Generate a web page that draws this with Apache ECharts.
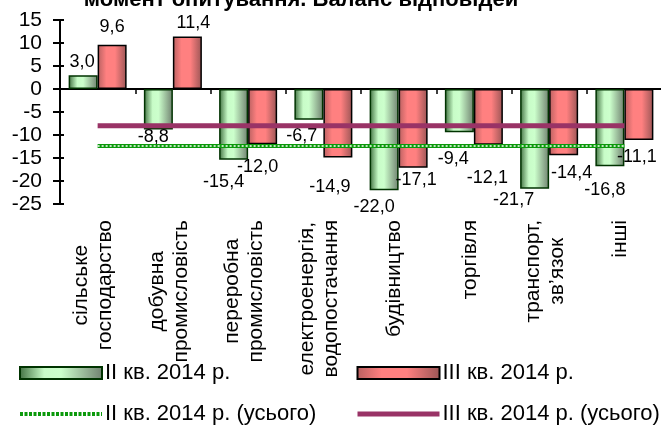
<!DOCTYPE html>
<html>
<head>
<meta charset="utf-8">
<script src="https://cdn.jsdelivr.net/npm/echarts@6/dist/echarts.min.js"></script>
<style>
html,body{margin:0;padding:0;background:#fff;}
#chart{width:661px;height:427px;}
</style>
</head>
<body>
<div id="chart"></div>
<script>
const titleText = 'момент опитування. Баланс відповідей';
const categories = ['сільське\nгосподарство', 'добувна\nпромисловість', 'переробна\nпромисловість', 'електроенергія,\nводопостачання', 'будівництво', 'торгівля', 'транспорт,\nзв\u2019язок', 'інші'];
const q2Values = [3.0, -8.8, -15.4, -6.7, -22.0, -9.4, -21.7, -16.8];
const q3Values = [9.6, 11.4, -12.0, -14.9, -17.1, -12.1, -14.4, -11.1];
const q2TotalValues = [-12.4, -12.4, -12.4, -12.4, -12.4, -12.4, -12.4, -12.4];
const q3TotalValues = [-8.0, -8.0, -8.0, -8.0, -8.0, -8.0, -8.0, -8.0];
const yMin = -25, yMax = 15, yStep = 5;
const names = ['ІІ кв. 2014 р.', 'ІІІ кв. 2014 р.', 'ІІ кв. 2014 р. (усього)', 'ІІІ кв. 2014 р. (усього)'];

// label placement tweaks (style only)
const q2LabelOffsets = [[-1,-4],[-5,-1],[-10,13],[-7,7],[-10,8],[-6,18],[-21,2],[-5,15]];
const q3LabelOffsets = [[0,-9],[6,-5],[-5,14],[-8,20],[3,3],[-1,24],[8,9],[-2,8]];

const FONT = '"Liberation Sans", Arial, sans-serif';
const fmt = v => v.toFixed(1).replace('.', ',');

const greenFill = {type:'linear', x:0, y:0, x2:1, y2:0, colorStops:[
  {offset:0, color:'#3f6e3f'}, {offset:0.3, color:'#c8fcc8'}, {offset:0.5, color:'#ccffcc'}, {offset:1, color:'#6f806f'}]};
const redFill = {type:'linear', x:0, y:0, x2:1, y2:0, colorStops:[
  {offset:0, color:'#b86060'}, {offset:0.3, color:'#ff8080'}, {offset:0.6, color:'#ff8080'}, {offset:1, color:'#9a5555'}]};

function barData(vals, offs){
  return vals.map((v,i)=>({value:v, label:{position: v>=0?'top':'bottom', offset: offs[i]}}));
}
const labelCfg = {show:true, distance:0, fontSize:18, fontFamily:FONT, color:'#000', formatter:p=>fmt(p.value)};
const legendText = {fontSize:22, fontFamily:FONT, color:'#000', padding:[0,0,0,-2]};

const chart = echarts.init(document.getElementById('chart'), null, {renderer:'canvas'});
chart.setOption({
  animation:false,
  backgroundColor:'#fff',
  graphic:[{type:'text', x:301, y:11, style:{text:titleText, font:'bold 22px '+FONT, align:'center', verticalAlign:'bottom', fill:'#000'}}],
  grid:{left:60, top:20, width:602, height:184, containLabel:false, outerBoundsMode:'none'},
  xAxis:[
    {type:'category', data:categories, position:'bottom', gridIndex:0,
     axisLine:{show:false, onZero:false}, axisTick:{show:false},
     axisLabel:{interval:0, rotate:90, margin:16, color:'#000', fontSize:21, fontFamily:FONT, lineHeight:24,
       padding:[0,0,8,0],
       formatter: v => v.split('\n').map(s=>'{c|'+s+'}').join('\n'),
       rich:{c:{align:'center', fontSize:21, fontFamily:FONT, lineHeight:24, color:'#000'}}}},
    {type:'category', data:categories, position:'bottom', gridIndex:0,
     axisLine:{show:true, onZero:true, lineStyle:{color:'#000', width:2}},
     axisTick:{show:true, interval:0, length:5, lineStyle:{color:'#000', width:1.5}},
     axisLabel:{show:false}}
  ],
  yAxis:[
    {type:'value', min:yMin, max:yMax, interval:yStep,
     axisLine:{show:true, lineStyle:{color:'#000', width:2}},
     axisTick:{show:true, length:7, lineStyle:{color:'#000', width:2}},
     splitLine:{show:false},
     axisLabel:{margin:18, color:'#000', fontSize:21, fontFamily:FONT}},
    {type:'value', min:yMin, max:yMax, interval:yStep, position:'left',
     axisLine:{show:false}, axisTick:{show:true, inside:true, length:4, lineStyle:{color:'#000', width:2}},
     splitLine:{show:false}, axisLabel:{show:false}}
  ],
  legend:[
    {left:18, top:362, orient:'vertical', itemGap:19, itemWidth:82, itemHeight:12, padding:0,
     textStyle:legendText,
     data:[{name:names[0], icon:'rect'},
           {name:names[2], itemStyle:{opacity:0, borderWidth:0}, lineStyle:{width:4, type:[3,1.5], color:'#0b990b'}}]},
    {left:355, top:362, orient:'vertical', itemGap:19, itemWidth:82, itemHeight:12, padding:0,
     textStyle:legendText,
     data:[{name:names[1], icon:'rect'},
           {name:names[3], itemStyle:{opacity:0, borderWidth:0}, lineStyle:{width:5, color:'#993366'}}]}
  ],
  series:[
    {name:names[0], type:'bar', xAxisIndex:0, yAxisIndex:0, barWidth:29, barGap:'0%',
     itemStyle:{color:greenFill, borderColor:'#003300', borderWidth:1.5},
     label:labelCfg, data:barData(q2Values, q2LabelOffsets)},
    {name:names[1], type:'bar', xAxisIndex:0, yAxisIndex:0, barWidth:29, barGap:'0%',
     itemStyle:{color:redFill, borderColor:'#000', borderWidth:1.5},
     label:labelCfg, data:barData(q3Values, q3LabelOffsets)},
    {name:names[2], type:'line', xAxisIndex:0, yAxisIndex:0, symbol:'none', z:5,
     itemStyle:{color:'#0b990b'}, lineStyle:{color:'#0b990b', width:4}, data:q2TotalValues},
    {name:'_dots', type:'line', xAxisIndex:0, yAxisIndex:0, symbol:'none', z:6, silent:true,
     lineStyle:{color:'#ffffff', width:1.5, type:[2,2]}, data:q2TotalValues},
    {name:names[3], type:'line', xAxisIndex:0, yAxisIndex:0, symbol:'none', z:5,
     itemStyle:{color:'#993366'}, lineStyle:{color:'#993366', width:5}, data:q3TotalValues}
  ]
});
</script>
</body>
</html>
